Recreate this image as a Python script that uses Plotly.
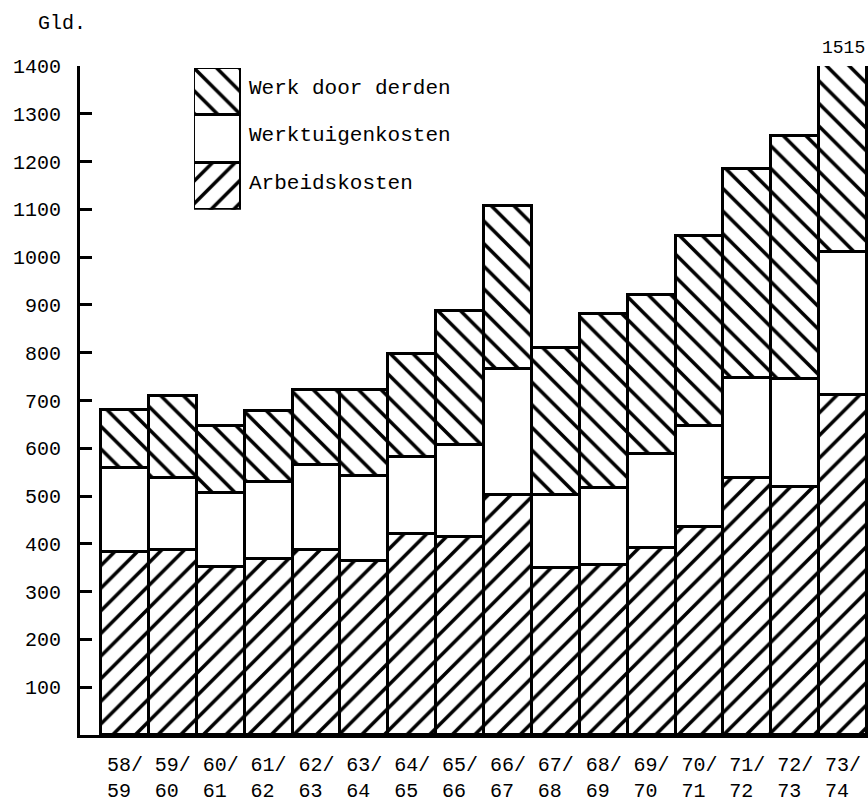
import plotly.graph_objects as go

# ---- data (Gld.) ----
periods = ["58/", "59/", "60/", "61/", "62/", "63/", "64/", "65/",
           "66/", "67/", "68/", "69/", "70/", "71/", "72/", "73/"]
periods_end = ["59", "60", "61", "62", "63", "64", "65", "66",
               "67", "68", "69", "70", "71", "72", "73", "74"]
arbeidskosten = [383, 388, 352, 369, 388, 365, 421, 415, 503, 350, 356, 391, 435, 538, 519, 712]
werktuigenkosten = [176, 150, 155, 161, 178, 178, 161, 192, 262, 153, 161, 198, 212, 210, 225, 298]
werk_door_derden = [121, 172, 140, 147, 155, 178, 216, 281, 341, 307, 363, 331, 397, 437, 509, 505]
y_ticks = [100, 200, 300, 400, 500, 600, 700, 800, 900, 1000, 1100, 1200, 1300, 1400]
last_total_label = "1515"
legend_names = ["Arbeidskosten", "Werktuigenkosten", "Werk door derden"]
legend_segments = [1, 1, 1]

categories = [a + "<br>" + b + "\u00a0" for a, b in zip(periods, periods_end)]

MONO = "Liberation Mono, Courier New, monospace"
line = dict(color="black", width=3)
pat_up = dict(shape="/", fgcolor="#000000", bgcolor="#ffffff", fgopacity=1,
              fillmode="replace", size=16, solidity=0.22)
pat_down = dict(shape="\\", fgcolor="#000000", bgcolor="#ffffff", fgopacity=1,
                fillmode="replace", size=16, solidity=0.22)

fig = go.Figure()

fig.add_trace(go.Bar(x=categories, y=arbeidskosten, name=legend_names[0],
                     marker=dict(color="white", line=line, pattern=pat_up)))
fig.add_trace(go.Bar(x=categories, y=werktuigenkosten, name=legend_names[1],
                     marker=dict(color="white", line=line)))
fig.add_trace(go.Bar(x=categories, y=werk_door_derden, name=legend_names[2],
                     marker=dict(color="white", line=line, pattern=pat_down)))

# legend block drawn as a small stacked bar on its own axes
fig.add_trace(go.Bar(x=["lg"], y=[legend_segments[0]], xaxis="x2", yaxis="y2",
                     marker=dict(color="white", line=line, pattern=pat_up)))
fig.add_trace(go.Bar(x=["lg"], y=[legend_segments[1]], xaxis="x2", yaxis="y2",
                     marker=dict(color="white", line=line)))
fig.add_trace(go.Bar(x=["lg"], y=[legend_segments[2]], xaxis="x2", yaxis="y2",
                     marker=dict(color="white", line=line, pattern=pat_down)))

annotations = []
cum = 0
for name, seg in zip(legend_names, legend_segments):
    annotations.append(dict(x=0.5, y=cum + seg / 2, xref="x2", yref="y2", text=name,
                            showarrow=False, xanchor="left", yanchor="middle", xshift=6, yshift=3,
                            font=dict(family=MONO, size=21, color="black")))
    cum += seg

annotations.append(dict(x=categories[-1], y=1, xref="x", yref="paper", text=last_total_label,
                        showarrow=False, xanchor="center", yanchor="bottom", yshift=6,
                        font=dict(family=MONO, size=18, color="black")))
annotations.append(dict(x=0, y=1, xref="paper", yref="paper", text="Gld.",
                        showarrow=False, xanchor="center", yanchor="bottom", xshift=-18, yshift=29,
                        font=dict(family=MONO, size=20, color="black")))

fig.update_layout(
    width=868, height=802,
    margin=dict(l=80, r=0, t=66, b=67, autoexpand=False),
    paper_bgcolor="white", plot_bgcolor="white",
    barmode="stack", bargap=0,
    showlegend=False,
    annotations=annotations,
    xaxis=dict(
        type="category", range=[-0.94, 15.52], automargin=False,
        showline=True, linecolor="black", linewidth=3,
        showgrid=False, zeroline=False, ticks="",
        tickfont=dict(family=MONO, size=20, color="black"),
        ticklabelstandoff=9,
    ),
    yaxis=dict(
        range=[0, 1400], tickvals=y_ticks, automargin=False,
        showline=True, linecolor="black", linewidth=3,
        showgrid=False, zeroline=False,
        ticks="inside", ticklen=12, tickwidth=3, tickcolor="black",
        tickfont=dict(family=MONO, size=20, color="black"),
        ticklabelstandoff=12,
    ),
    xaxis2=dict(domain=[0.1447, 0.2043], anchor="y2", type="category",
                range=[-0.5, 0.5], visible=False, automargin=False),
    yaxis2=dict(domain=[0.785, 0.997], anchor="x2", range=[0, 3], visible=False,
                automargin=False),
)

fig.write_html("out.html", config={"displayModeBar": False},
               post_script="document.body.style.margin='0';document.body.style.overflow='hidden';")
